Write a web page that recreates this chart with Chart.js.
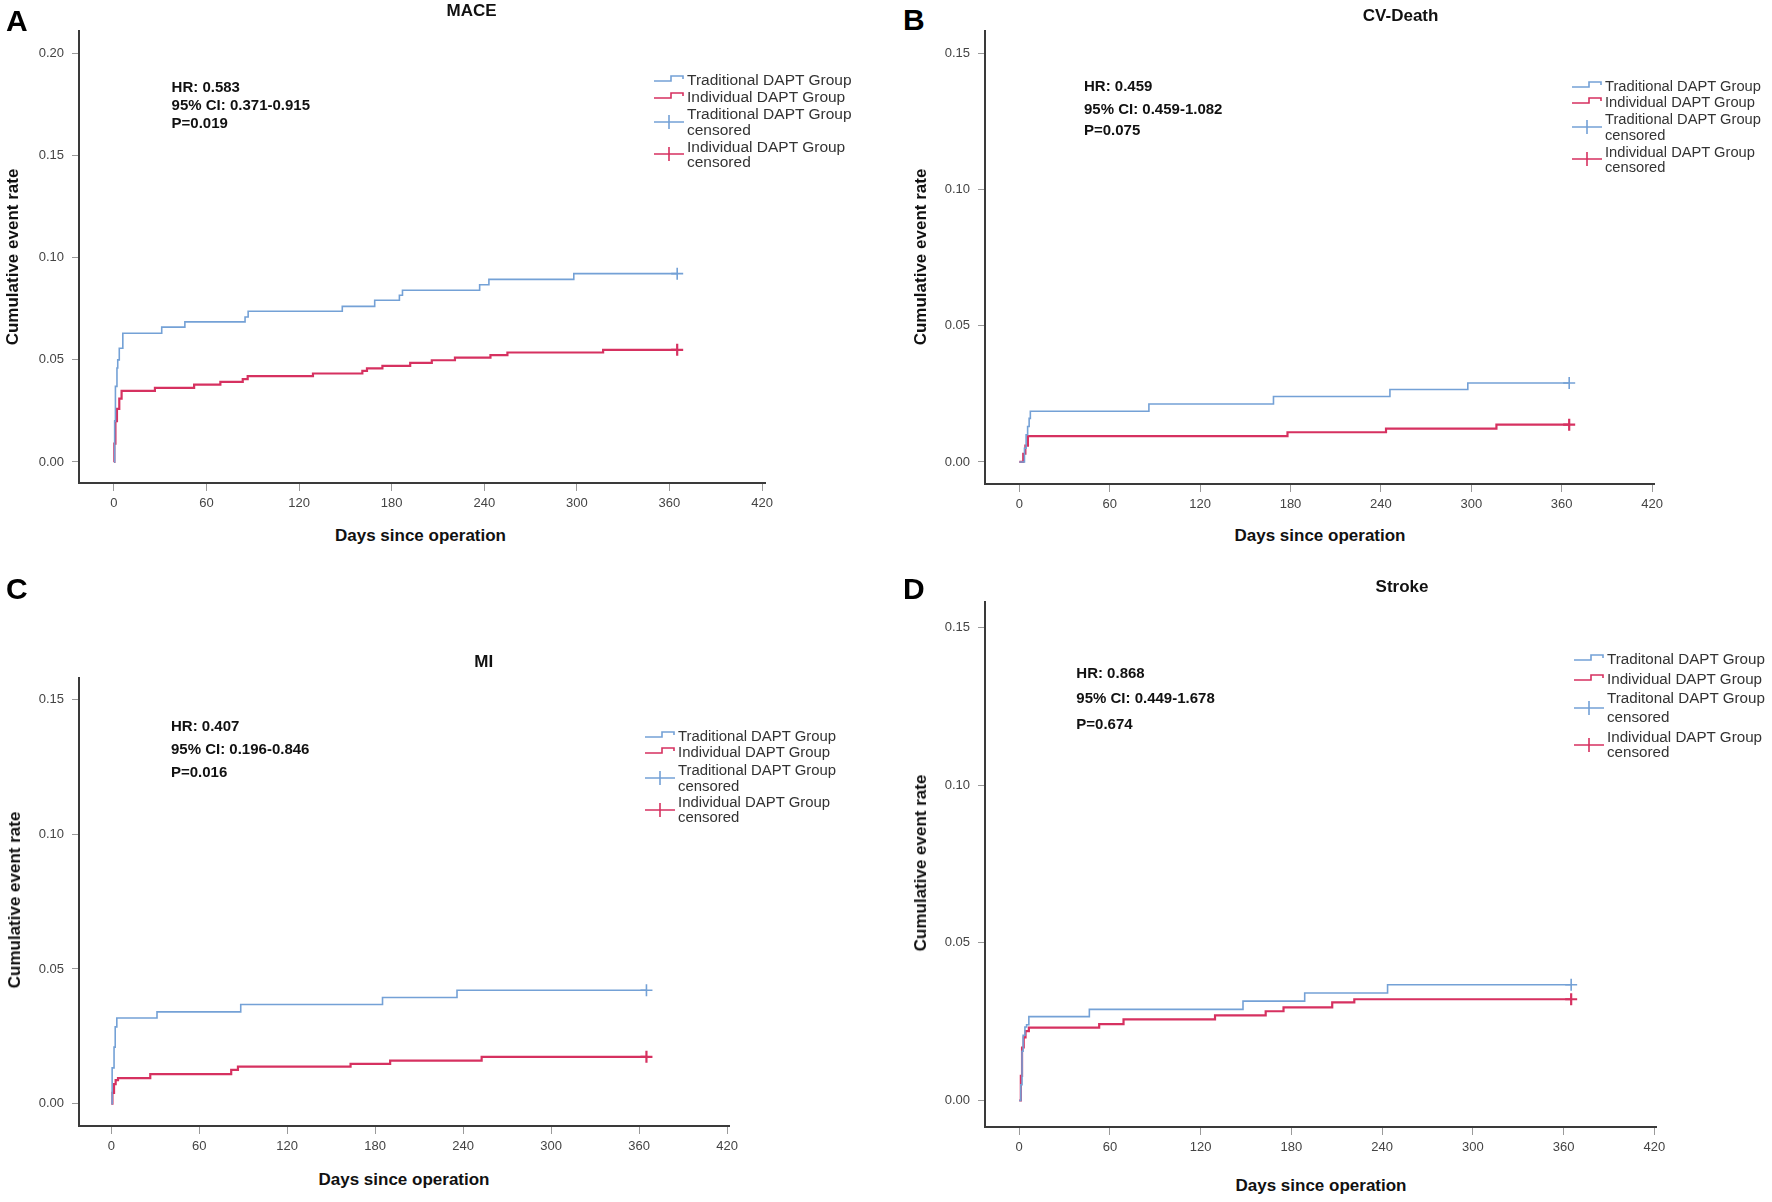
<!DOCTYPE html>
<html lang="en">
<head>
<meta charset="UTF-8">
<title>Cumulative event curves</title>
<script src="https://cdn.jsdelivr.net/npm/chart.js"></script>
<style>
  body { margin: 0; background: #fff; font-family: Arial, 'Liberation Sans', sans-serif; }
  #fig { position: relative; width: 1772px; height: 1202px; overflow: hidden; background: #fff; }
  #fig canvas { position: absolute; }
  .txt { position: absolute; white-space: nowrap; height: 20px; line-height: 20px; color: #111; }
  .letter { font-size: 30px; font-weight: bold; height: 40px; line-height: 40px; color: #000; }
  .title { font-size: 17px; font-weight: bold; transform: translateX(-50%); }
  .stat { font-size: 15px; font-weight: bold; }
  .leg { color: #333; }
  .xtitle { font-size: 17px; font-weight: bold; transform: translateX(-50%); }
  .ytitle { font-size: 17px; font-weight: bold; transform: translate(-50%, -50%) rotate(-90deg); top: 0; }
  .icon { position: absolute; }
</style>
</head>
<body>
<div id="fig"></div>
<script>
// ---- values ----
const xTicks = [0, 60, 120, 180, 240, 300, 360, 420];
const yTicksMace = [0, 0.05, 0.10, 0.15, 0.20];
const yTicksOther = [0, 0.05, 0.10, 0.15];
const followUpDay = 365;

// A: MACE
const maceTradDays = [0, 0.5, 1, 2, 2.5, 3.5, 5.8, 31, 46, 85, 87, 148, 169, 185, 187, 237, 243, 298];
const maceTradRate = [0, 0.020, 0.037, 0.046, 0.050, 0.0557, 0.063, 0.066, 0.0686, 0.071, 0.0738, 0.0762, 0.0792, 0.0816, 0.0841, 0.0868, 0.0894, 0.0922];
const maceIndivDays = [0, 0.3, 1, 2, 3.5, 5, 26.6, 52, 69, 83.5, 86.7, 129, 161, 164, 174, 192, 206, 221, 244, 255, 317];
const maceIndivRate = [0, 0.009, 0.020, 0.026, 0.031, 0.0348, 0.0363, 0.0379, 0.0392, 0.0406, 0.042, 0.0433, 0.0446, 0.0458, 0.047, 0.0485, 0.0498, 0.0511, 0.0523, 0.0536, 0.0549];

// B: CV-Death
const cvTradDays = [0, 3.4, 4.5, 5.5, 6.5, 7.3, 86, 168.7, 246, 297.7];
const cvTradRate = [0, 0.005, 0.010, 0.013, 0.016, 0.0186, 0.0213, 0.024, 0.0266, 0.029];
const cvIndivDays = [0, 2.6, 4, 5.7, 178, 243.4, 316.7];
const cvIndivRate = [0, 0.003, 0.006, 0.0095, 0.0109, 0.0122, 0.0137];

// C: MI
const miTradDays = [0, 0.6, 1.9, 2.7, 3.8, 31.2, 88.3, 185, 235.8];
const miTradRate = [0, 0.0133, 0.021, 0.0285, 0.0318, 0.0341, 0.0368, 0.0394, 0.0421];
const miIndivDays = [0, 0.8, 1.9, 3, 4.6, 26.6, 81.8, 86.4, 163.2, 190.2, 252.6];
const miIndivRate = [0, 0.004, 0.0073, 0.0088, 0.0095, 0.011, 0.0126, 0.0138, 0.0148, 0.016, 0.0174];

// D: Stroke
const strokeTradDays = [0, 1.1, 1.9, 2.6, 3.8, 4.9, 6.4, 46.4, 148, 188.8, 243.6];
const strokeTradRate = [0, 0.005, 0.0156, 0.0207, 0.0233, 0.024, 0.0266, 0.0289, 0.0315, 0.0341, 0.0367];
const strokeIndivDays = [0, 1.1, 1.9, 3, 4.2, 6.4, 52.9, 69, 129.5, 163, 174.8, 207, 221.6];
const strokeIndivRate = [0, 0.0078, 0.0168, 0.020, 0.022, 0.0231, 0.0242, 0.0257, 0.027, 0.0283, 0.0295, 0.0311, 0.0321];

const legendLabels = ['Traditional DAPT Group', 'Individual DAPT Group', 'Traditional DAPT Group', 'censored', 'Individual DAPT Group', 'censored'];
const legendLabelsD = ['Traditonal DAPT Group', 'Individual DAPT Group', 'Traditonal DAPT Group', 'censored', 'Individual DAPT Group', 'censored'];

const panels = [
  { letter: 'A', title: 'MACE', stats: ['HR: 0.583', '95% CI: 0.371-0.915', 'P=0.019'], legend: legendLabels,
    trad: [maceTradDays, maceTradRate], indiv: [maceIndivDays, maceIndivRate], yTicks: yTicksMace },
  { letter: 'B', title: 'CV-Death', stats: ['HR: 0.459', '95% CI: 0.459-1.082', 'P=0.075'], legend: legendLabels,
    trad: [cvTradDays, cvTradRate], indiv: [cvIndivDays, cvIndivRate], yTicks: yTicksOther },
  { letter: 'C', title: 'MI', stats: ['HR: 0.407', '95% CI: 0.196-0.846', 'P=0.016'], legend: legendLabels,
    trad: [miTradDays, miTradRate], indiv: [miIndivDays, miIndivRate], yTicks: yTicksOther },
  { letter: 'D', title: 'Stroke', stats: ['HR: 0.868', '95% CI: 0.449-1.678', 'P=0.674'], legend: legendLabelsD,
    trad: [strokeTradDays, strokeTradRate], indiv: [strokeIndivDays, strokeIndivRate], yTicks: yTicksOther }
];

// ---- layout (pixel placement of each panel) ----
const AX_W = 60, AX_H = 40, PAD_T = 15, PAD_R = 25;
const layout = [
  { area: [78.5, 30, 764, 483], x: [-22.6, 421.9], y: [-0.0103, 0.2111],
    letter: [6, 21], title: [471.6, 10.8], stats: [171.6, [86.7, 105, 123.3]],
    legX: 654, legRows: [80, 96.7, 114, 130, 146.7, 161.7], legSize: 15.5,
    xTitle: [420.5, 535.6], yTitle: [13, 256.7] },
  { area: [985, 30, 1654, 484], x: [-22.8, 421.3], y: [-0.0081, 0.1583],
    letter: [903, 19.6], title: [1400.6, 16.3], stats: [1084, [85.5, 108.8, 129.5]],
    legX: 1572, legRows: [85.5, 102, 118.5, 134.5, 151.5, 167], legSize: 14.7,
    xTitle: [1320, 535.7], yTitle: [920.5, 257] },
  { area: [79, 677, 729, 1126], x: [-22, 421.3], y: [-0.00825, 0.158],
    letter: [6, 588.7], title: [483.7, 661.5], stats: [171, [725.8, 749.1, 772.1]],
    legX: 645, legRows: [736, 752.4, 770, 786, 802.4, 817], legSize: 14.9,
    xTitle: [404, 1180.2], yTitle: [14.6, 900] },
  { area: [985, 601, 1656, 1127], x: [-22.6, 421.1], y: [-0.0084, 0.1581],
    letter: [903, 588.7], title: [1402, 587], stats: [1076.3, [672.6, 698.4, 723.8]],
    legX: 1574, legRows: [659, 678.7, 698.4, 716.8, 736.9, 752.4], legSize: 15.2,
    xTitle: [1321, 1186.4], yTitle: [920.5, 863] }
];

const BLUE = '#74a1d6';
const RED = '#d63160';
const fig = document.getElementById('fig');

function addText(text, cls, x, cy, extra) {
    const d = document.createElement('div');
    d.className = 'txt ' + cls;
    d.textContent = text;
    const h = cls.indexOf('letter') >= 0 ? 40 : 20;
    d.style.left = x + 'px';
    d.style.top = (cy - h / 2) + 'px';
    if (extra) Object.assign(d.style, extra);
    fig.appendChild(d);
    return d;
}

function addIcon(kind, color, x, cy) {
    const ns = 'http://www.w3.org/2000/svg';
    const svg = document.createElementNS(ns, 'svg');
    svg.setAttribute('width', 30);
    svg.setAttribute('height', 16);
    svg.setAttribute('class', 'icon');
    svg.style.left = x + 'px';
    svg.style.top = (cy - 8) + 'px';
    const p = document.createElementNS(ns, 'path');
    p.setAttribute('d', kind === 'step' ? 'M0,9 H17 V4 H29 V7' : 'M0,8 H30 M15,1 V15');
    p.setAttribute('stroke', color);
    p.setAttribute('stroke-width', 1.6);
    p.setAttribute('fill', 'none');
    svg.appendChild(p);
    fig.appendChild(svg);
}

function toPoints(days, rates) {
    const pts = days.map((d, i) => ({ x: d, y: rates[i] }));
    pts.push({ x: followUpDay, y: rates[rates.length - 1] });
    return pts;
}

const tickFont = { family: "Arial, 'Liberation Sans', sans-serif", size: 13 };

panels.forEach((p, i) => {
    const L = layout[i];
    const [l, t, r, b] = L.area;
    const canvas = document.createElement('canvas');
    canvas.width = Math.round((r - l) + AX_W + PAD_R);
    canvas.height = Math.round((b - t) + PAD_T + AX_H);
    canvas.style.left = (l - AX_W) + 'px';
    canvas.style.top = (t - PAD_T) + 'px';
    fig.appendChild(canvas);

    const tradPts = toPoints(p.trad[0], p.trad[1]);
    const indivPts = toPoints(p.indiv[0], p.indiv[1]);

    new Chart(canvas.getContext('2d'), {
        type: 'line',
        data: {
            datasets: [
                { data: tradPts, borderColor: BLUE, borderWidth: 1.6, stepped: 'before', pointRadius: 0, fill: false },
                { data: indivPts, borderColor: RED, borderWidth: 2.2, stepped: 'before', pointRadius: 0, fill: false },
                { data: [tradPts[tradPts.length - 1]], showLine: false, pointStyle: 'cross', pointRadius: 6,
                  borderColor: BLUE, borderWidth: 1.6 },
                { data: [indivPts[indivPts.length - 1]], showLine: false, pointStyle: 'cross', pointRadius: 6,
                  borderColor: RED, borderWidth: 2.2 }
            ]
        },
        options: {
            responsive: false,
            animation: false,
            devicePixelRatio: 1,
            layout: { padding: { top: PAD_T, right: PAD_R, left: 0, bottom: 0 } },
            plugins: { legend: { display: false }, tooltip: { enabled: false } },
            scales: {
                x: {
                    type: 'linear', min: L.x[0], max: L.x[1],
                    afterBuildTicks: s => { s.ticks = xTicks.map(v => ({ value: v })); },
                    afterFit: s => { s.height = AX_H; },
                    grid: { drawOnChartArea: false, drawTicks: true, tickLength: 8, color: '#9a9a9a' },
                    border: { display: true, color: '#3a3a3a', width: 2 },
                    ticks: { autoSkip: false, maxRotation: 0, padding: 5, color: '#444', font: tickFont,
                             callback: v => String(v) }
                },
                y: {
                    type: 'linear', min: L.y[0], max: L.y[1],
                    afterBuildTicks: s => { s.ticks = p.yTicks.map(v => ({ value: v })); },
                    afterFit: s => { s.width = AX_W; },
                    grid: { drawOnChartArea: false, drawTicks: true, tickLength: 7, color: '#9a9a9a' },
                    border: { display: true, color: '#3a3a3a', width: 2 },
                    ticks: { autoSkip: false, padding: 8, color: '#444', font: tickFont,
                             callback: v => Number(v).toFixed(2) }
                }
            }
        }
    });

    // panel letter, title, stats
    addText(p.letter, 'letter', L.letter[0], L.letter[1]);
    addText(p.title, 'title', L.title[0], L.title[1]);
    p.stats.forEach((s, k) => addText(s, 'stat', L.stats[0], L.stats[1][k]));

    // legend
    const rows = L.legRows;
    p.legend.forEach((s, k) => addText(s, 'leg', L.legX + 33, rows[k], { fontSize: L.legSize + 'px' }));
    addIcon('step', BLUE, L.legX, rows[0]);
    addIcon('step', RED, L.legX, rows[1]);
    addIcon('cross', BLUE, L.legX, (rows[2] + rows[3]) / 2);
    addIcon('cross', RED, L.legX, (rows[4] + rows[5]) / 2);

    // axis titles
    addText('Days since operation', 'xtitle', L.xTitle[0], L.xTitle[1]);
    const yt = addText('Cumulative event rate', 'ytitle', L.yTitle[0], 0);
    yt.style.top = L.yTitle[1] + 'px';
});
</script>
</body>
</html>
